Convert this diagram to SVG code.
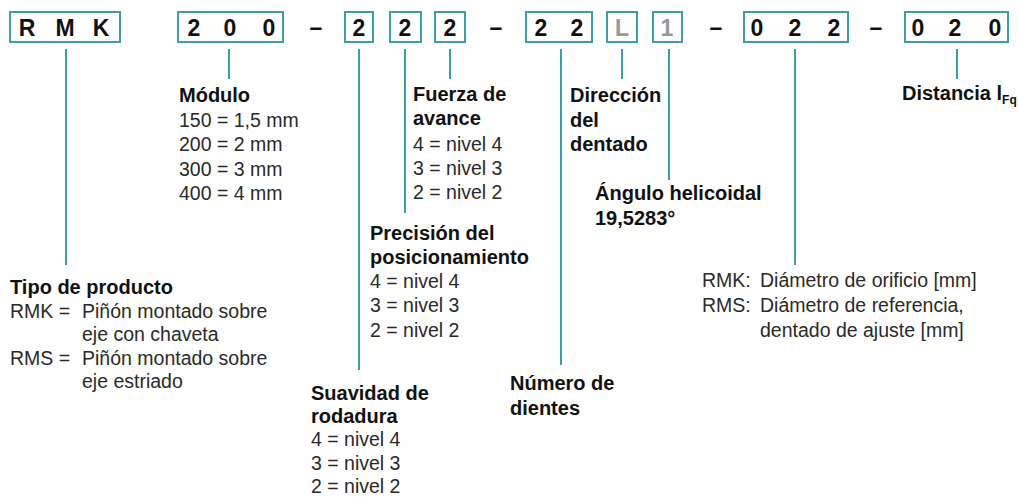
<svg xmlns="http://www.w3.org/2000/svg" width="1019" height="497" viewBox="0 0 1019 497">
<style>
.box{fill:#fff;stroke:#3e9ea6;stroke-width:2}
.code{font-family:"Liberation Sans",Arial,sans-serif;font-weight:bold;font-size:23px;fill:#111;text-anchor:middle}
.gray{fill:#999}
.dash{font-family:"Liberation Sans",Arial,sans-serif;font-weight:bold;font-size:23px;fill:#111;text-anchor:middle}
.h{font-family:"Liberation Sans",Arial,sans-serif;font-weight:bold;font-size:20px;fill:#111}
.t{font-family:"Liberation Sans",Arial,sans-serif;font-size:19.5px;fill:#2a2a2a}
.sub{font-size:12px}
#connectors line{stroke:#3e9ea6;stroke-width:2}
</style>
<rect width="1019" height="497" fill="#fff"/>
<g id="code-row">
<g id="box-rmk"><rect class="box" x="10" y="12" width="110" height="30"/><text class="code" y="36"><tspan x="27">R</tspan><tspan x="65">M</tspan><tspan x="101">K</tspan></text></g>
<g id="box-200"><rect class="box" x="178" y="12" width="105" height="30"/><text class="code" y="36"><tspan x="194">2</tspan><tspan x="230">0</tspan><tspan x="269">0</tspan></text></g>
<text class="dash" x="316" y="35">–</text>
<g id="box-2a"><rect class="box" x="345" y="12" width="28" height="30"/><text class="code" x="359" y="36">2</text></g>
<g id="box-2b"><rect class="box" x="390" y="12" width="31" height="30"/><text class="code" x="405" y="36">2</text></g>
<g id="box-2c"><rect class="box" x="435" y="12" width="30" height="30"/><text class="code" x="450" y="36">2</text></g>
<text class="dash" x="496" y="35">–</text>
<g id="box-22"><rect class="box" x="526" y="12" width="66" height="30"/><text class="code" y="36"><tspan x="541">2</tspan><tspan x="577">2</tspan></text></g>
<g id="box-L"><rect class="box" x="607" y="12" width="30" height="30"/><text class="code gray" x="622" y="36">L</text></g>
<g id="box-1"><rect class="box" x="653" y="12" width="29" height="30"/><text class="code gray" x="667" y="36">1</text></g>
<text class="dash" x="716" y="35">–</text>
<g id="box-022"><rect class="box" x="744" y="12" width="104" height="30"/><text class="code" y="36"><tspan x="757">0</tspan><tspan x="795">2</tspan><tspan x="834">2</tspan></text></g>
<text class="dash" x="876" y="35">–</text>
<g id="box-020"><rect class="box" x="905" y="12" width="103" height="30"/><text class="code" y="36"><tspan x="918">0</tspan><tspan x="955">2</tspan><tspan x="995">0</tspan></text></g>
</g>
<g id="connectors">
<line x1="66" y1="49" x2="66" y2="265"/>
<line x1="229" y1="49" x2="229" y2="79"/>
<line x1="359" y1="49" x2="359" y2="370"/>
<line x1="405" y1="49" x2="405" y2="213"/>
<line x1="450" y1="49" x2="450" y2="79"/>
<line x1="561" y1="49" x2="561" y2="365"/>
<line x1="622" y1="49" x2="622" y2="79"/>
<line x1="669" y1="49" x2="669" y2="180"/>
<line x1="795" y1="49" x2="795" y2="265"/>
<line x1="957" y1="49" x2="957" y2="79"/>
</g>
<g id="label-tipo">
<text class="h" x="10" y="294">Tipo de producto</text>
<text class="t" x="10" y="318">RMK =</text><text class="t" x="82" y="318">Piñón montado sobre</text>
<text class="t" x="82" y="341">eje con chaveta</text>
<text class="t" x="10" y="365">RMS =</text><text class="t" x="82" y="365">Piñón montado sobre</text>
<text class="t" x="82" y="388">eje estriado</text>
</g>
<g id="label-modulo">
<text class="h" x="179" y="102">Módulo</text>
<text class="t" x="179" y="127">150 = 1,5 mm</text>
<text class="t" x="179" y="151">200 = 2 mm</text>
<text class="t" x="179" y="176">300 = 3 mm</text>
<text class="t" x="179" y="200">400 = 4 mm</text>
</g>
<g id="label-fuerza">
<text class="h" x="413" y="101">Fuerza de</text>
<text class="h" x="413" y="125">avance</text>
<text class="t" x="413" y="151">4 = nivel 4</text>
<text class="t" x="413" y="175">3 = nivel 3</text>
<text class="t" x="413" y="199">2 = nivel 2</text>
</g>
<g id="label-precision">
<text class="h" x="370" y="240">Precisión del</text>
<text class="h" x="370" y="264">posicionamiento</text>
<text class="t" x="370" y="288">4 = nivel 4</text>
<text class="t" x="370" y="312">3 = nivel 3</text>
<text class="t" x="370" y="337">2 = nivel 2</text>
</g>
<g id="label-suavidad">
<text class="h" x="311" y="400">Suavidad de</text>
<text class="h" x="311" y="423">rodadura</text>
<text class="t" x="311" y="446">4 = nivel 4</text>
<text class="t" x="311" y="470">3 = nivel 3</text>
<text class="t" x="311" y="493">2 = nivel 2</text>
</g>
<g id="label-numero">
<text class="h" x="510" y="390">Número de</text>
<text class="h" x="510" y="415">dientes</text>
</g>
<g id="label-direccion">
<text class="h" x="570" y="102">Dirección</text>
<text class="h" x="570" y="127">del</text>
<text class="h" x="570" y="151">dentado</text>
</g>
<g id="label-angulo">
<text class="h" x="595" y="200">Ángulo helicoidal</text>
<text class="h" x="595" y="225">19,5283°</text>
</g>
<g id="label-diametro">
<text class="t" x="702" y="287">RMK:</text><text class="t" x="760" y="287">Diámetro de orificio [mm]</text>
<text class="t" x="702" y="312">RMS:</text><text class="t" x="760" y="312">Diámetro de referencia,</text>
<text class="t" x="760" y="337">dentado de ajuste [mm]</text>
</g>
<g id="label-distancia">
<text class="h" x="902" y="100">Distancia l<tspan class="sub" dy="4">Fq</tspan></text>
</g>
</svg>
